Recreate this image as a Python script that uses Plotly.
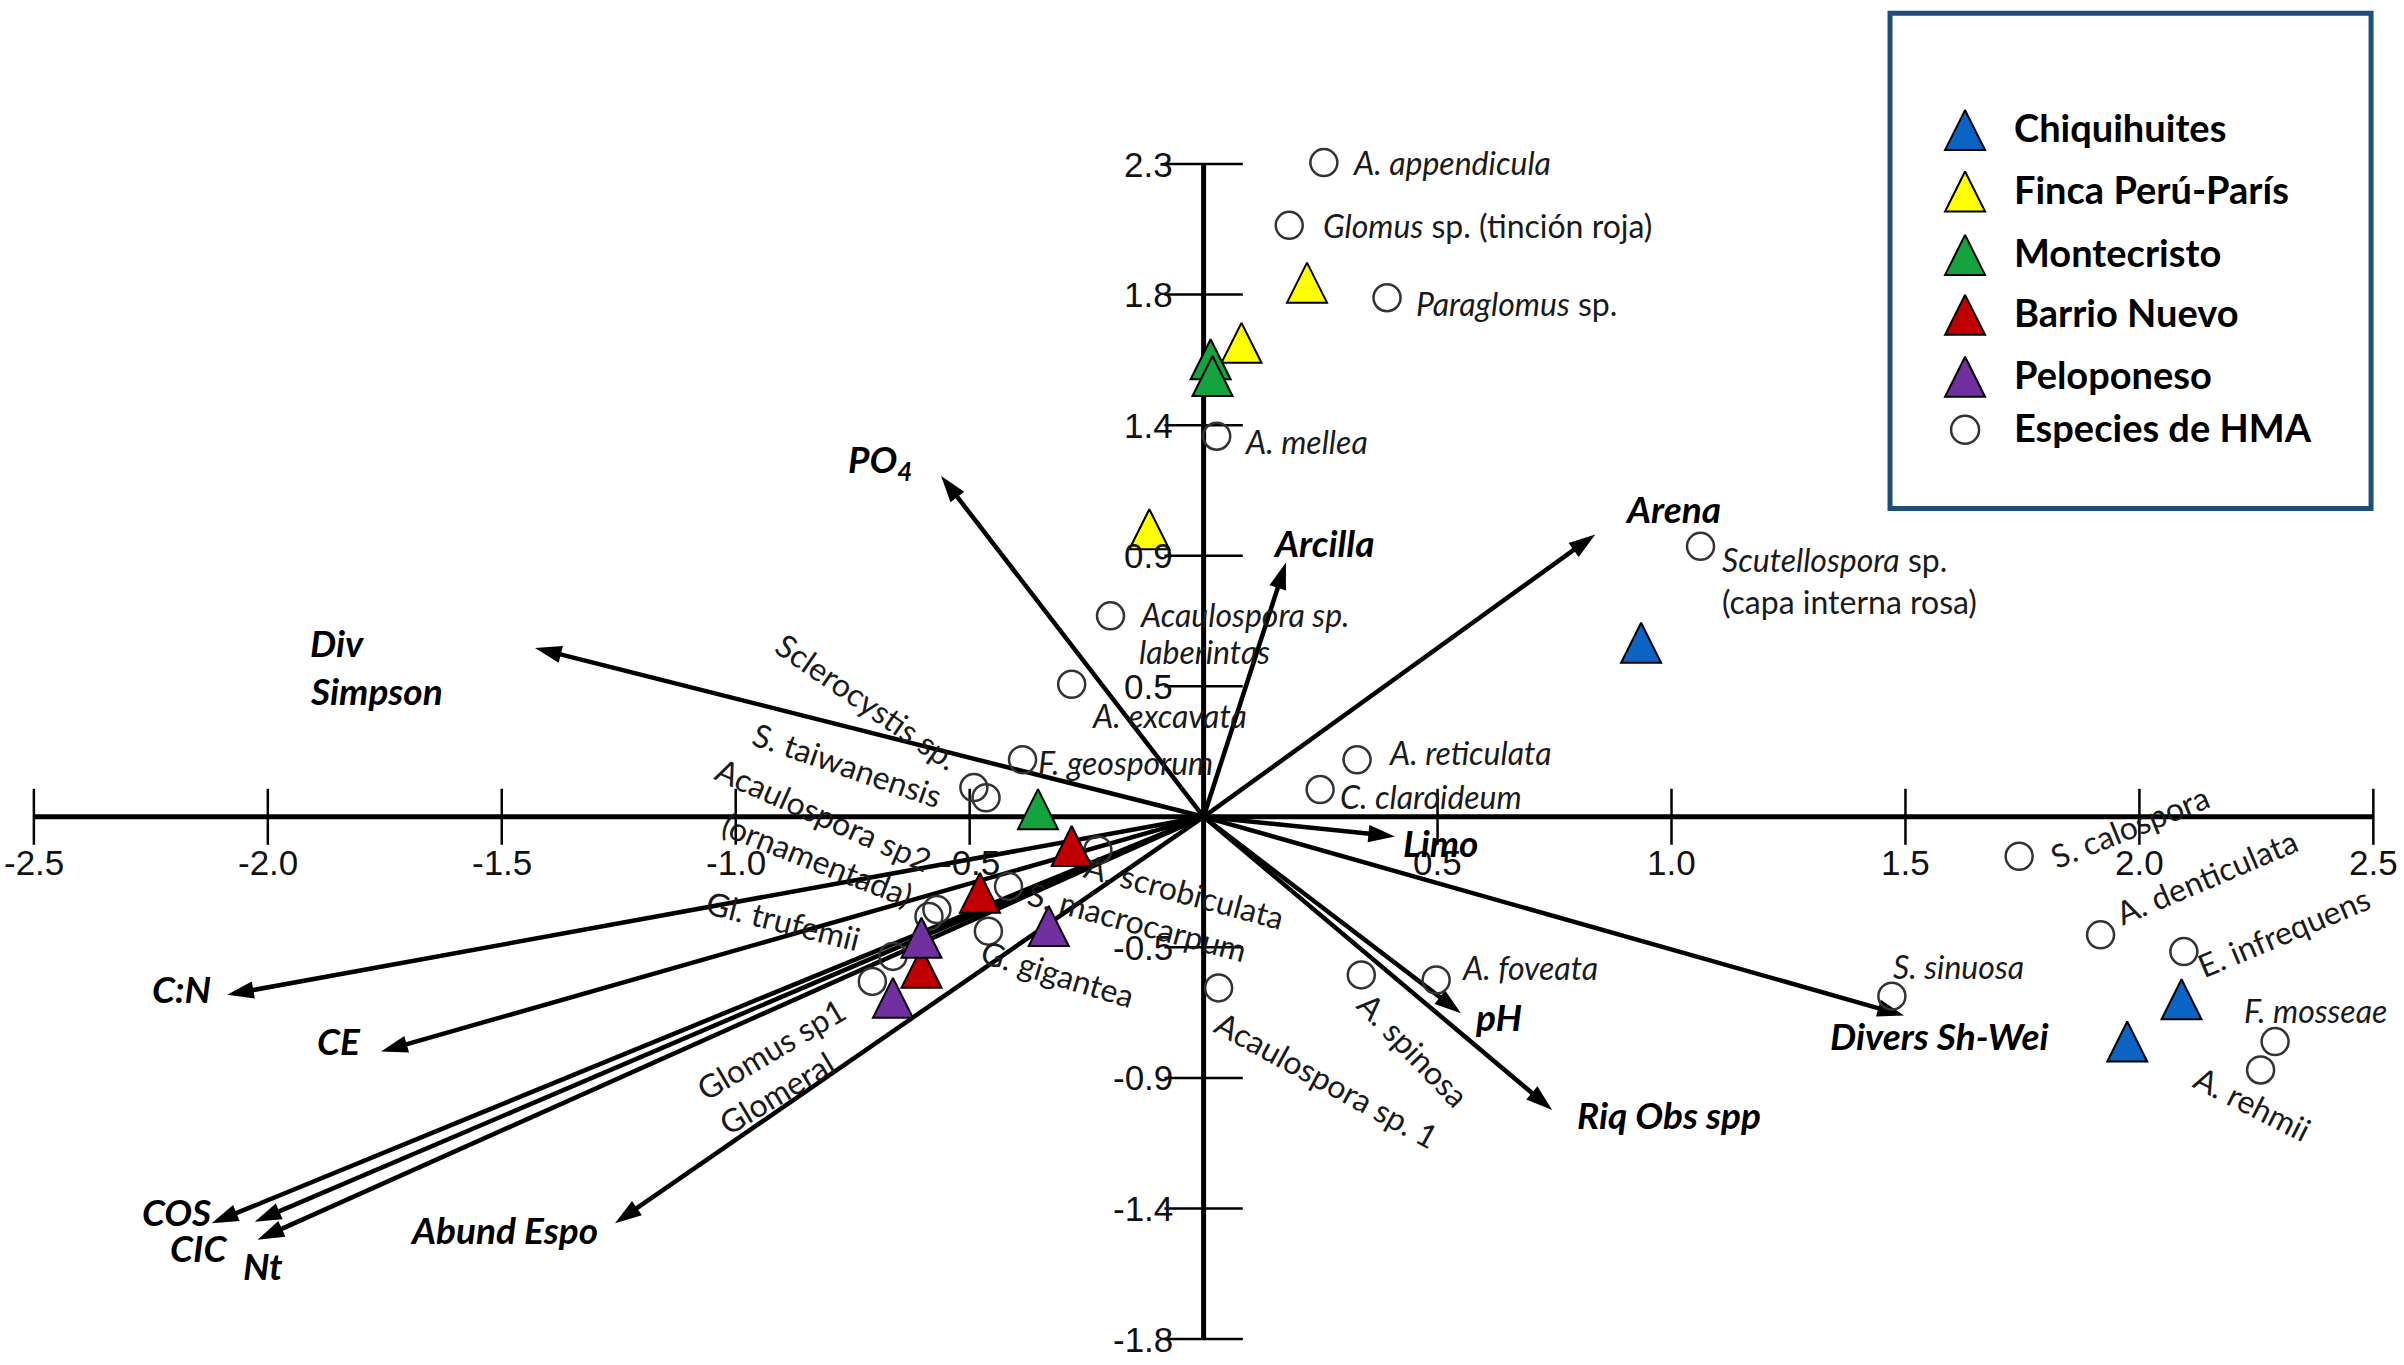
import plotly.graph_objects as go

# ---------------- data ----------------
X_TICKS = [-2.5, -2.0, -1.5, -1.0, -0.5, 0.5, 1.0, 1.5, 2.0, 2.5]
X_TICK_LABELS = ["-2.5", "-2.0", "-1.5", "-1.0", "-0.5", "0.5", "1.0", "1.5", "2.0", "2.5"]
Y_TICKS = [2.3, 1.84, 1.38, 0.92, 0.46, -0.46, -0.92, -1.38, -1.84]
Y_TICK_LABELS = ["2.3", "1.8", "1.4", "0.9", "0.5", "-0.5", "-0.9", "-1.4", "-1.8"]

SITE_NAMES = ["Chiquihuites", "Finca Perú-París", "Montecristo", "Barrio Nuevo", "Peloponeso"]
CHIQ_X = [0.935, 2.090, 1.974]
CHIQ_Y = [0.613, -0.643, -0.792]
FINCA_X = [0.221, 0.081, -0.116]
FINCA_Y = [1.882, 1.670, 1.013]
MONTE_X = [0.015, 0.019, -0.354]
MONTE_Y = [1.612, 1.553, 0.027]
BARRIO_X = [-0.282, -0.478, -0.603]
BARRIO_Y = [-0.103, -0.268, -0.532]
PELO_X = [-0.603, -0.331, -0.664]
PELO_Y = [-0.426, -0.385, -0.638]

SPECIES = ["A. appendicula", "Glomus sp. (tinción roja)", "Paraglomus sp.", "A. mellea",
           "Scutellospora sp. (capa interna rosa)", "Acaulospora sp. laberintas", "A. excavata",
           "F. geosporum", "Sclerocystis sp.", "S. taiwanensis", "Acaulospora sp2 (ornamentada)",
           "Gl. trufemii", "A. scrobiculata", "S. macrocarpum", "G. gigantea", "Glomus sp1",
           "Glomeral", "Acaulospora sp. 1", "A. spinosa", "A. foveata", "A. reticulata",
           "C. claroideum", "S. calospora", "A. denticulata", "E. infrequens", "S. sinuosa",
           "F. mosseae", "A. rehmii"]
SPECIES_X = [0.257, 0.183, 0.392, 0.028, 1.062, -0.199, -0.282, -0.387, -0.491, -0.465, -0.587,
             -0.570, -0.226, -0.417, -0.460, -0.708, -0.664, 0.032, 0.337, 0.497, 0.328, 0.249,
             1.743, 1.917, 2.095, 1.471, 2.290, 2.259]
SPECIES_Y = [2.305, 2.084, 1.829, 1.341, 0.953, 0.708, 0.467, 0.201, 0.103, 0.067, -0.351,
             -0.327, -0.117, -0.245, -0.403, -0.580, -0.492, -0.603, -0.557, -0.575, 0.201, 0.096,
             -0.139, -0.416, -0.475, -0.632, -0.792, -0.892]

VARS = ["PO4", "Arcilla", "Arena", "Div Simpson", "Limo", "Divers Sh-Wei", "pH", "Riq Obs spp",
        "C:N", "CE", "COS", "CIC", "Nt", "Abund Espo"]
VAR_X = [-0.561, 0.176, 0.837, -1.429, 0.409, 1.497, 0.550, 0.745, -2.087, -1.758, -2.120,
         -2.028, -2.022, -1.258]
VAR_Y = [1.201, 0.896, 0.995, 0.595, -0.069, -0.700, -0.692, -1.033, -0.627, -0.827, -1.432,
         -1.427, -1.490, -1.432]

# ---------------- styles / label layout ----------------
SITE_COLORS = ["#0B63C4", "#FFFF00", "#14A33C", "#C00000", "#7030A0"]
LABEL_FONT = "Lato, 'Open Sans', sans-serif"
TICK_FONT = "'Liberation Sans Narrow', 'Arial Narrow', 'Liberation Sans', sans-serif"

# (species, text, anchor, xshift px, yshift px, angle)
SPECIES_LABELS = [
    ("A. appendicula", "<i>A. appendicula</i>", "left", 26, 0, 0),
    ("Glomus sp. (tinción roja)", "<i>Glomus</i> sp. (tinción roja)", "left", 32, 0, 0),
    ("Paraglomus sp.", "<i>Paraglomus</i> sp.", "left", 27, -6, 0),
    ("A. mellea", "<i>A. mellea</i>", "left", 25, -5, 0),
    ("Scutellospora sp. (capa interna rosa)", "<i>Scutellospora</i> sp.", "left", 19, -13, 0),
    ("Scutellospora sp. (capa interna rosa)", "(capa interna rosa)", "left", 19, -55, 0),
    ("Acaulospora sp. laberintas", "<i>Acaulospora sp.</i>", "left", 26, 1, 0),
    ("Acaulospora sp. laberintas", "<i>laberintas</i>", "left", 26, -36, 0),
    ("A. excavata", "<i>A. excavata</i>", "left", 17, -31, 0),
    ("F. geosporum", "<i>F. geosporum</i>", "left", 13, -3, 0),
    ("Sclerocystis sp.", "Sclerocystis sp.", "center", -106, 86, 34.5),
    ("S. taiwanensis", "S. taiwanensis", "center", -139, 33, 19),
    ("Acaulospora sp2 (ornamentada)", "Acaulospora sp2", "center", -105, 102, 24),
    ("Acaulospora sp2 (ornamentada)", "(ornamentada)", "center", -111, 57, 21.5),
    ("Gl. trufemii", "Gl. trufemii", "center", -153, -11, 14),
    ("A. scrobiculata", "A. scrobiculata", "center", 87, -41, 15),
    ("S. macrocarpum", "S. macrocarpum", "center", 129, -35, 15),
    ("G. gigantea", "G. gigantea", "center", 70, -42, 17),
    ("Glomus sp1", "Glomus sp1", "center", -101, -67, -30.6),
    ("Glomeral", "Glomeral", "center", -116, -136, -31),
    ("Acaulospora sp. 1", "Acaulospora sp. 1", "center", 108, -92, 28.6),
    ("A. spinosa", "A. spinosa", "center", 52, -75, 46),
    ("A. foveata", "<i>A. foveata</i>", "left", 23, 12, 0),
    ("A. reticulata", "<i>A. reticulata</i>", "left", 29, 7, 0),
    ("C. claroideum", "<i>C. claroideum</i>", "left", 18, -7, 0),
    ("S. calospora", "S. calospora", "center", 110, 30, -22),
    ("A. denticulata", "A. denticulata", "center", 106, 58, -23),
    ("E. infrequens", "E. infrequens", "center", 100, 20, -22.7),
    ("S. sinuosa", "<i>S. sinuosa</i>", "center", 67, 30, 0),
    ("F. mosseae", "<i>F. mosseae</i>", "center", 40, 31, 0),
    ("A. rehmii", "A. rehmii", "center", -8, -34, 26.7),
]

# (variable, text, anchor, xshift, yshift)
VAR_LABELS = [
    ("PO4", "PO<sub>4</sub>", "center", -61, 14),
    ("Arcilla", "Arcilla", "center", 38, 20),
    ("Arena", "Arena", "center", 78, 26),
    ("Div Simpson", "Div", "left", -227, 5),
    ("Div Simpson", "Simpson", "left", -227, -43),
    ("Limo", "Limo", "center", 46, -6),
    ("Divers Sh-Wei", "Divers Sh-Wei", "center", 35, -20),
    ("pH", "pH", "center", 38, -3),
    ("Riq Obs spp", "Riq Obs spp", "center", 117, -5),
    ("C:N", "C:N", "center", -46, 6),
    ("CE", "CE", "center", -42, 11),
    ("COS", "COS", "center", -35, 12),
    ("CIC", "CIC", "center", -56, -26),
    ("Nt", "Nt", "center", 5, -26),
    ("Abund Espo", "Abund Espo", "center", -111, -6),
]

fig = go.Figure()

# axes drawn through the origin
fig.add_trace(go.Scatter(x=[min(X_TICKS), max(X_TICKS)], y=[0, 0], mode="lines",
                         line=dict(color="black", width=5), hoverinfo="skip", showlegend=False))
fig.add_trace(go.Scatter(x=[0, 0], y=[min(Y_TICKS), max(Y_TICKS)], mode="lines",
                         line=dict(color="black", width=5), hoverinfo="skip", showlegend=False))
fig.add_trace(go.Scatter(x=X_TICKS, y=[0] * len(X_TICKS), mode="markers",
                         marker=dict(symbol="line-ns", size=40, line=dict(color="black", width=2.5)),
                         hoverinfo="skip", showlegend=False))
fig.add_trace(go.Scatter(x=[0] * len(Y_TICKS), y=Y_TICKS, mode="markers",
                         marker=dict(symbol="line-ew", size=56, line=dict(color="black", width=2.5)),
                         hoverinfo="skip", showlegend=False))

for xv, lab in zip(X_TICKS, X_TICK_LABELS):
    fig.add_annotation(x=xv, y=0, xref="x", yref="y", text=lab, showarrow=False,
                       xanchor="center", yanchor="middle", yshift=-46,
                       font=dict(family=TICK_FONT, size=35, color="#111"))
for yv, lab in zip(Y_TICKS, Y_TICK_LABELS):
    fig.add_annotation(x=0, y=yv, xref="x", yref="y", text=lab, showarrow=False,
                       xanchor="right", yanchor="middle", xshift=-29,
                       font=dict(family=TICK_FONT, size=35, color="#111"))

# environmental vectors
for name, vx, vy in zip(VARS, VAR_X, VAR_Y):
    fig.add_trace(go.Scatter(x=[0, vx], y=[0, vy], mode="lines+markers",
                             line=dict(color="black", width=4.5),
                             marker=dict(symbol=["circle", "arrow"], size=[1, 28], angleref="previous",
                                         color="black", opacity=1, line=dict(width=0)),
                             hoverinfo="skip", showlegend=False, name=name))

# species (open circles)
fig.add_trace(go.Scatter(x=SPECIES_X, y=SPECIES_Y, mode="markers", text=SPECIES,
                         marker=dict(symbol="circle-open", size=27, color="#333333",
                                     line=dict(width=2.5, color="#333333")),
                         hoverinfo="text", showlegend=False))

# sites (triangles)
site_xy = [(CHIQ_X, CHIQ_Y), (FINCA_X, FINCA_Y), (MONTE_X, MONTE_Y), (BARRIO_X, BARRIO_Y), (PELO_X, PELO_Y)]
TRI = dict(symbol="arrow-down", angle=180, standoff=20, size=40)
for name, (sx, sy), col in zip(SITE_NAMES, site_xy, SITE_COLORS):
    fig.add_trace(go.Scatter(x=sx, y=sy, mode="markers", name=name,
                             marker=dict(**TRI, color=col, line=dict(color="black", width=2)),
                             showlegend=False))

# species labels
sp_index = {n: i for i, n in enumerate(SPECIES)}
for sp, txt, anc, dx, dy, ang in SPECIES_LABELS:
    i = sp_index[sp]
    fig.add_annotation(x=SPECIES_X[i], y=SPECIES_Y[i], xref="x", yref="y", text=txt,
                       showarrow=False, xanchor=anc, yanchor="middle", xshift=dx, yshift=dy,
                       textangle=ang, font=dict(family=LABEL_FONT, size=32, color="#1a1a1a"))

# vector labels
v_index = {n: i for i, n in enumerate(VARS)}
for v, txt, anc, dx, dy in VAR_LABELS:
    i = v_index[v]
    fig.add_annotation(x=VAR_X[i], y=VAR_Y[i], xref="x", yref="y", text="<b><i>" + txt + "</i></b>",
                       showarrow=False, xanchor=anc, yanchor="middle", xshift=dx, yshift=dy,
                       font=dict(family=LABEL_FONT, size=37, color="black"))

# manual legend on its own small axes
LEG_ROWS = [0.764, 0.640, 0.512, 0.391, 0.266, 0.159]
LEG_MX, LEG_TX = 0.156, 0.254
for k, (name, col) in enumerate(zip(SITE_NAMES, SITE_COLORS)):
    fig.add_trace(go.Scatter(x=[LEG_MX], y=[LEG_ROWS[k]], xaxis="x2", yaxis="y2", mode="markers",
                             marker=dict(**TRI, color=col, line=dict(color="black", width=2)),
                             hoverinfo="skip", showlegend=False))
fig.add_trace(go.Scatter(x=[LEG_MX], y=[LEG_ROWS[5]], xaxis="x2", yaxis="y2", mode="markers",
                         marker=dict(symbol="circle-open", size=28, color="#333333", line=dict(width=2.5)),
                         hoverinfo="skip", showlegend=False))
for k, name in enumerate(SITE_NAMES + ["Especies de HMA"]):
    fig.add_annotation(x=LEG_TX, y=LEG_ROWS[k], xref="x2", yref="y2", text="<b>" + name + "</b>",
                       showarrow=False, xanchor="left", yanchor="middle", yshift=3,
                       font=dict(family=LABEL_FONT, size=38, color="black"))

fig.add_shape(type="rect", xref="paper", yref="paper", x0=0.7862, x1=0.9863, y0=0.6275, y1=0.9903,
              line=dict(color="#1F4E79", width=5), fillcolor="rgba(0,0,0,0)")

fig.update_layout(
    width=2404, height=1365,
    margin=dict(l=0, r=0, t=0, b=0),
    paper_bgcolor="white", plot_bgcolor="white",
    xaxis=dict(range=[-2.5724, 2.5655], visible=False, domain=[0, 1]),
    yaxis=dict(range=[-1.9316, 2.878], visible=False, domain=[0, 1]),
    xaxis2=dict(range=[0, 1], visible=False, domain=[0.7862, 0.9863], anchor="y2"),
    yaxis2=dict(range=[0, 1], visible=False, domain=[0.6275, 0.9903], anchor="x2"),
    showlegend=False,
)

fig.write_html("out.html", config={"displayModeBar": False},
               post_script="document.body.style.margin='0';document.body.style.overflow='hidden';")
